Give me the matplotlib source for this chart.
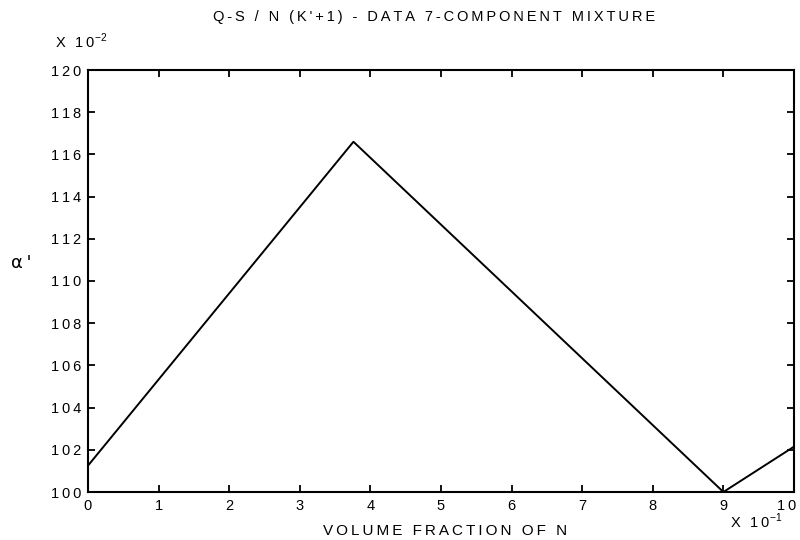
import numpy as np
import matplotlib.pyplot as plt
from matplotlib.transforms import ScaledTranslation

# alpha' (x 10^-2) against volume fraction of N (x 10^-1)
vol_frac = [0.0, 3.76, 9.0, 10.0]
alpha = [101.25, 116.6, 100.0, 102.15]

x_ticks = list(range(0, 11))
y_ticks = list(range(100, 121, 2))

plt.rcParams['font.family'] = ['Liberation Sans', 'DejaVu Sans']
plt.rcParams['mathtext.fontset'] = 'custom'
plt.rcParams['mathtext.rm'] = 'Liberation Sans'


def track(s):
    # widen the lettering with thin spaces between characters
    return '\u2009'.join(s)


W, H = 800, 540
fig = plt.figure(figsize=(W / 100, H / 100), dpi=100)
ax = fig.add_axes([88 / W, 1 - 492 / H, (794 - 88) / W, (492 - 70) / H])

ax.plot(vol_frac, alpha, color='black', linewidth=1.4)

ax.set_xlim(0, 10)
ax.set_ylim(100, 120)
ax.set_xticks(x_ticks)
ax.set_xticklabels([track(str(v)) for v in x_ticks])
ax.set_yticks(y_ticks)
ax.set_yticklabels([track(str(v)) for v in y_ticks])
ax.tick_params(direction='in', length=5, width=1.3, top=True, right=True,
               labelsize=10.5, pad=5)
for s in ax.spines.values():
    s.set_linewidth(1.5)

# keep the last x label inside the figure
fig.canvas.draw()
last = ax.get_xticklabels()[-1]
last.set_transform(last.get_transform()
                   + ScaledTranslation(-5 / 72, 0, fig.dpi_scale_trans))


def put(px, py, txt, **kw):
    fig.text(px / W, 1 - py / H, txt, **kw)


put(434, 17, track("Q-S / N (K'+1) - DATA 7-COMPONENT MIXTURE"),
    fontsize=10.5, ha='center', va='center')
put(445, 531, track('VOLUME FRACTION OF N'), fontsize=11,
    ha='center', va='center')
put(55, 41, '\u2009'.join('X 10') + r'$^{-2}$', fontsize=10.5,
    ha='left', va='center')
put(730, 521, '\u2009'.join('X 10') + r'$^{-1}$', fontsize=10.5,
    ha='left', va='center')
put(21, 263, "\u03b1\u2009'", fontsize=13, ha='center', va='center',
    family=['DejaVu Sans'])

fig.savefig('out.png', dpi=100)
